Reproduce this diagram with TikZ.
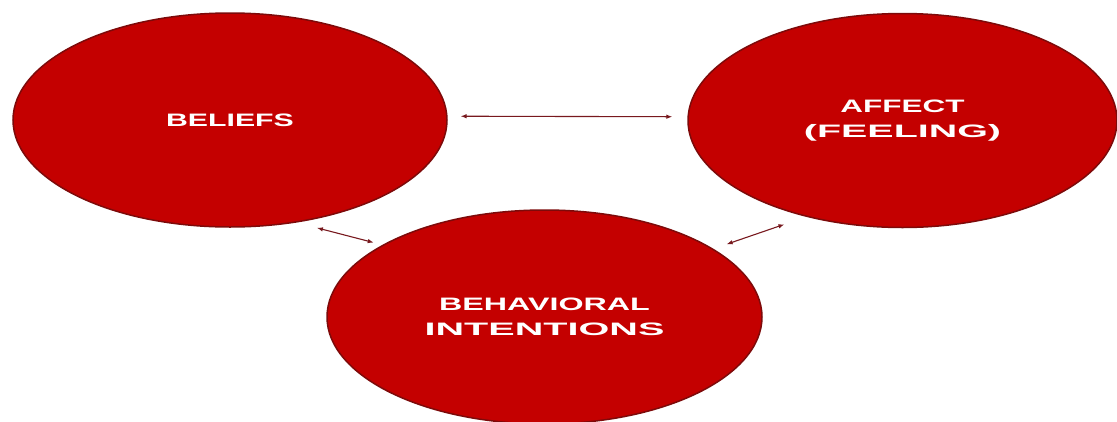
\documentclass[tikz,border=0pt]{standalone}
\usepackage{fontspec}
\setmainfont{Liberation Sans}
\usetikzlibrary{shapes.geometric,arrows.meta}
\definecolor{circfill}{RGB}{196,0,0}
\definecolor{circedge}{RGB}{125,10,10}
\definecolor{arrowc}{RGB}{120,25,30}
\begin{document}
\begin{tikzpicture}[x=1pt,y=-1pt,
  blob/.style={ellipse, fill=circfill, draw=circedge, line width=1.5pt,
    minimum width=434pt, minimum height=214pt, inner sep=0pt, text=white,
    font=\fontsize{18}{25}\selectfont\bfseries, align=center},
  link/.style={draw=arrowc, line width=1.1pt,
    {Latex[length=6pt,width=4.5pt]}-{Latex[length=6pt,width=4.5pt]}}]
\useasboundingbox (0,0) rectangle (1117,421);
\node[blob] (b) at (230,120) {\scalebox{1.68}[1]{BELIEFS}};
\node[blob, minimum width=429pt] (a) at (902.5,120.5)
  {\scalebox{1.75}[1]{AFFECT}\\\scalebox{2.19}[1]{(FEELING)}};
\node[blob, minimum width=435pt] (c) at (544.5,317)
  {\scalebox{1.79}[1]{BEHAVIORAL}\\\scalebox{2.2}[1]{INTENTIONS}};
\draw[link, shorten <=13pt, shorten >=15pt] (b.1) -- (a.179);
\draw[link, shorten <=21pt, shorten >=9pt] (b.-57.6) -- (c.156.7);
\draw[link, shorten <=14pt, shorten >=23pt] (c.22) -- (a.-135.6);
\end{tikzpicture}
\end{document}
